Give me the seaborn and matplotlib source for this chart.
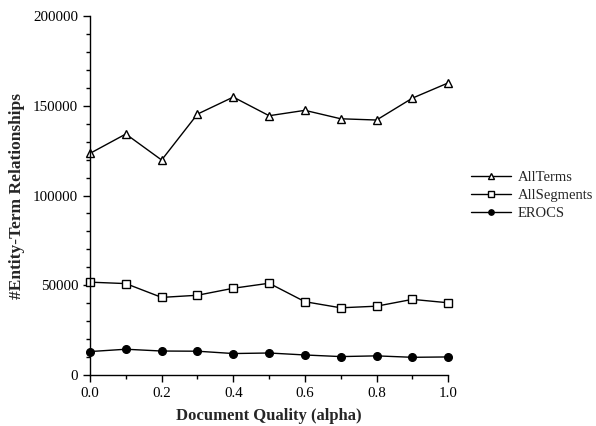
import numpy as np
import pandas as pd
import matplotlib
matplotlib.use("Agg")
import matplotlib.pyplot as plt
from matplotlib.ticker import MultipleLocator
import seaborn as sns

alpha = [0.0, 0.1, 0.2, 0.3, 0.4, 0.5, 0.6, 0.7, 0.8, 0.9, 1.0]
all_terms = [123500, 134300, 119800, 145400, 154900, 144500, 147500, 142800, 142100, 154300, 162800]
all_segments = [51700, 50900, 43200, 44400, 48300, 51100, 40800, 37400, 38300, 42100, 40200]
erocs = [13000, 14300, 13300, 13200, 11900, 12200, 11100, 10200, 10600, 9800, 10000]

series = ["AllTerms", "AllSegments", "EROCS"]
markers = {"AllTerms": "^", "AllSegments": "s", "EROCS": "o"}
faces = {"AllTerms": "white", "AllSegments": "white", "EROCS": "black"}

df = pd.DataFrame({
    "alpha": alpha * 3,
    "value": all_terms + all_segments + erocs,
    "series": np.repeat(series, len(alpha)),
})

sns.set_style("ticks")
plt.rcParams["font.family"] = ["Liberation Serif", "DejaVu Serif"]

fig = plt.figure(figsize=(5.96, 4.26), dpi=100)
ax = fig.add_axes([0.151, 0.12, 0.601, 0.842])

for name in series:
    sub = df[df["series"] == name]
    sns.lineplot(data=sub, x="alpha", y="value", ax=ax, color="black", lw=1,
                 marker=markers[name], markersize=5.5, markerfacecolor=faces[name],
                 markeredgecolor="black", markeredgewidth=1, label=name, clip_on=False)

ax.set_xlim(0, 1)
ax.set_ylim(0, 200000)
ax.xaxis.set_major_locator(MultipleLocator(0.2))
ax.xaxis.set_minor_locator(MultipleLocator(0.1))
ax.yaxis.set_major_locator(MultipleLocator(50000))
ax.yaxis.set_minor_locator(MultipleLocator(10000))
ax.set_xticklabels([f"{v:.1f}" for v in ax.get_xticks()])
ax.tick_params(which="both", direction="out", colors="black", labelsize=10.8, width=1)
ax.tick_params(which="major", length=5)
ax.tick_params(which="minor", length=3)
sns.despine(ax=ax)
for s in ["left", "bottom"]:
    ax.spines[s].set_color("black")
    ax.spines[s].set_linewidth(1)

ax.set_xlabel("Document Quality (alpha)", fontsize=12, fontweight="bold", labelpad=6)
ax.set_ylabel("#Entity-Term Relationships", fontsize=12.5, fontweight="bold", labelpad=6)

ax.legend(loc="center left", bbox_to_anchor=(1.065, 0.5), frameon=False, fontsize=10.5,
          handlelength=2.7, markerscale=0.7, labelspacing=0.32, handletextpad=0.45,
          borderaxespad=0, borderpad=0)

fig.savefig("out.png", dpi=100)
